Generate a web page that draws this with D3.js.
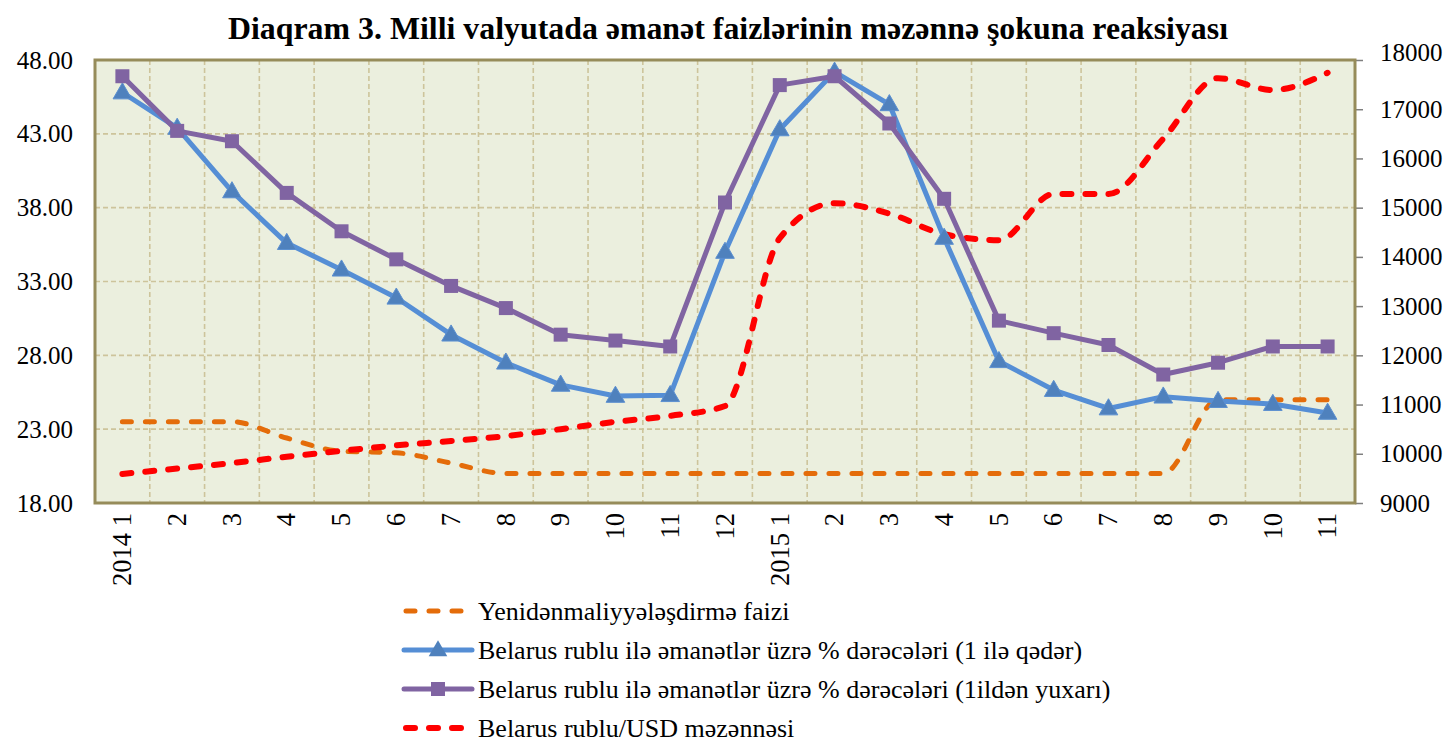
<!DOCTYPE html>
<html>
<head>
<meta charset="utf-8">
<script src="https://cdn.jsdelivr.net/npm/d3@7"></script>
<style>
    body { margin: 0; background: #ffffff; }
    text { font-family: "Liberation Serif", "Times New Roman", serif; }
</style>
</head>
<body>
<div class="chart"></div>
<script>
// Category labels (monthly, 2014 1 .. 2015 11)
var months = ["2014 1", "2", "3", "4", "5", "6", "7", "8", "9", "10", "11", "12",
              "2015 1", "2", "3", "4", "5", "6", "7", "8", "9", "10", "11"];

// Refinancing rate, % (left axis)
var refinRate = [23.5, 23.5, 23.5, 22.4, 21.5, 21.4, 20.7, 20, 20, 20, 20, 20,
                 20, 20, 20, 20, 20, 20, 20, 20, 25, 25, 25];

// Deposit rates in Belarusian rubles, up to 1 year (left axis)
var rateShort = [45.8, 43.4, 39.1, 35.6, 33.8, 31.9, 29.4, 27.5, 26.0, 25.25, 25.3, 35.0,
                 43.3, 47.2, 45.0, 35.95, 27.6, 25.65, 24.4, 25.2, 24.9, 24.7, 24.1];

// Deposit rates in Belarusian rubles, over 1 year (left axis)
var rateLong = [46.9, 43.2, 42.5, 39.0, 36.4, 34.5, 32.7, 31.2, 29.4, 29.0, 28.6, 38.35,
                46.3, 46.9, 43.7, 38.6, 30.35, 29.5, 28.7, 26.7, 27.5, 28.6, 28.6];

// BYR/USD exchange rate (right axis)
var usdRate = [9590, 9700, 9810, 9940, 10060, 10170, 10260, 10360, 10500, 10650, 10770, 10970,
               14380, 15090, 14880, 14460, 14340, 15280, 15280, 16400, 17630, 17390, 17740];

var leftTicks = [18, 23, 28, 33, 38, 43, 48];
var rightTicks = [9000, 10000, 11000, 12000, 13000, 14000, 15000, 16000, 17000, 18000];

var title = "Diaqram 3. Milli valyutada əmanət faizlərinin məzənnə şokuna reaksiyası";
var legendNames = [
    "Yenidənmaliyyələşdirmə faizi",
    "Belarus rublu ilə əmanətlər üzrə % dərəcələri (1 ilə qədər)",
    "Belarus rublu ilə əmanətlər üzrə % dərəcələri (1ildən yuxarı)",
    "Belarus rublu/USD məzənnəsi"
];

var serif = "Liberation Serif";
var svgWidth = 1450;
var svgHeight = 744;
var margin = { top: 60, right: 95, bottom: 241, left: 95 };
var width = svgWidth - margin.left - margin.right;
var height = svgHeight - margin.top - margin.bottom;

var svg = d3.select(".chart")
    .append("svg")
    .attr("width", svgWidth)
    .attr("height", svgHeight)
    .attr("font-family", serif);

// Title
svg.append("text")
    .attr("x", 728)
    .attr("y", 39)
    .attr("text-anchor", "middle")
    .attr("font-family", serif)
    .attr("font-size", 31)
    .attr("font-weight", "bold")
    .attr("textLength", 1000)
    .attr("lengthAdjust", "spacingAndGlyphs")
    .text(title);

var chartGroup = svg.append("g")
    .attr("transform", `translate(${margin.left}, ${margin.top})`);

// Scales
var xBand = d3.scaleBand()
    .domain(d3.range(months.length))
    .range([0, width])
    .padding(0);
var xMid = i => xBand(i) + xBand.bandwidth() / 2;

var yLeft = d3.scaleLinear().domain([18, 48]).range([height, 0]);
var yRight = d3.scaleLinear().domain([9000, 18000]).range([height, 0]);

// Plot background
chartGroup.append("rect")
    .attr("width", width)
    .attr("height", height)
    .attr("fill", "#ebefde");

// Gridlines
chartGroup.append("g")
    .selectAll("line")
    .data(leftTicks.slice(1, -1))
    .enter()
    .append("line")
    .attr("x1", 0)
    .attr("x2", width)
    .attr("y1", d => yLeft(d))
    .attr("y2", d => yLeft(d))
    .attr("stroke", "#cdc49b")
    .attr("stroke-width", 1.6)
    .attr("stroke-dasharray", "5,3");

chartGroup.append("g")
    .selectAll("line")
    .data(d3.range(1, months.length))
    .enter()
    .append("line")
    .attr("x1", d => xBand(d))
    .attr("x2", d => xBand(d))
    .attr("y1", 0)
    .attr("y2", height)
    .attr("stroke", "#cdc49b")
    .attr("stroke-width", 1.6)
    .attr("stroke-dasharray", "5,3");

// Axes
var leftAxis = d3.axisLeft(yLeft)
    .tickValues(leftTicks)
    .tickSize(0)
    .tickPadding(22)
    .tickFormat(d3.format(".2f"));

var rightAxis = d3.axisRight(yRight)
    .tickValues(rightTicks)
    .tickSize(8)
    .tickPadding(17)
    .tickFormat(d => d);

var bottomAxis = d3.axisBottom(xBand)
    .tickSize(0)
    .tickFormat(i => months[i]);

var gLeft = chartGroup.append("g").call(leftAxis);
var gRight = chartGroup.append("g")
    .attr("transform", `translate(${width}, 0)`)
    .call(rightAxis);
var gBottom = chartGroup.append("g")
    .attr("transform", `translate(0, ${height})`)
    .call(bottomAxis);

[gLeft, gRight, gBottom].forEach(function(g) {
    g.select(".domain").remove();
    g.attr("font-family", serif);
    g.selectAll("text")
        .attr("font-family", serif)
        .attr("font-size", 25)
        .attr("fill", "#000");
});
gRight.selectAll(".tick line")
    .attr("stroke", "#7f7f7f")
    .attr("stroke-width", 1.5);
// top label of the right axis sits a little higher, as in the original
gRight.selectAll(".tick text")
    .filter(d => d === 18000)
    .attr("dy", "0.0em");

gBottom.selectAll("text")
    .attr("font-size", 26.5)
    .attr("transform", "rotate(-90)")
    .attr("text-anchor", "end")
    .attr("x", -10)
    .attr("y", 0)
    .attr("dy", "0.33em");

// Series lines
var lineLeft = d3.line()
    .x((d, i) => xMid(i))
    .y(d => yLeft(d));
var smoothLeft = d3.line()
    .x((d, i) => xMid(i))
    .y(d => yLeft(d))
    .curve(d3.curveMonotoneX);
var smoothRight = d3.line()
    .x((d, i) => xMid(i))
    .y(d => yRight(d))
    .curve(d3.curveMonotoneX);

chartGroup.append("path")
    .datum(refinRate)
    .attr("d", smoothLeft)
    .attr("fill", "none")
    .attr("stroke", "#e46c0a")
    .attr("stroke-width", 5)
    .attr("stroke-linecap", "round")
    .attr("stroke-dasharray", "9,14");

chartGroup.append("path")
    .datum(usdRate)
    .attr("d", smoothRight)
    .attr("fill", "none")
    .attr("stroke", "#ff0000")
    .attr("stroke-width", 6)
    .attr("stroke-linecap", "round")
    .attr("stroke-dasharray", "9,14");

chartGroup.append("path")
    .datum(rateShort)
    .attr("d", lineLeft)
    .attr("fill", "none")
    .attr("stroke", "#558ed5")
    .attr("stroke-width", 5)
    .attr("stroke-linejoin", "round");

var triangle = d3.symbol().type(d3.symbolTriangle).size(150);
chartGroup.append("g")
    .selectAll("path")
    .data(rateShort)
    .enter()
    .append("path")
    .attr("d", triangle)
    .attr("transform", (d, i) => `translate(${xMid(i)}, ${yLeft(d) + 1})`)
    .attr("fill", "#4f81bd")
    .attr("stroke", "#5b8fd0")
    .attr("stroke-width", 1);

chartGroup.append("path")
    .datum(rateLong)
    .attr("d", lineLeft)
    .attr("fill", "none")
    .attr("stroke", "#8064a2")
    .attr("stroke-width", 5)
    .attr("stroke-linejoin", "round");

chartGroup.append("g")
    .selectAll("rect")
    .data(rateLong)
    .enter()
    .append("rect")
    .attr("x", (d, i) => xMid(i) - 7)
    .attr("y", d => yLeft(d) - 7)
    .attr("width", 14)
    .attr("height", 14)
    .attr("fill", "#8064a2");

// Plot border
chartGroup.append("rect")
    .attr("width", width)
    .attr("height", height)
    .attr("fill", "none")
    .attr("stroke", "#968c5a")
    .attr("stroke-width", 3);

// Legend
var legend = svg.append("g").attr("transform", "translate(402, 611)");
var rowGap = 39;

var legendRows = legend.selectAll("g")
    .data(legendNames)
    .enter()
    .append("g")
    .attr("transform", (d, i) => `translate(0, ${i * rowGap})`);

legendRows.append("text")
    .attr("x", 76)
    .attr("dy", "0.33em")
    .attr("font-family", serif)
    .attr("font-size", 26)
    .text(d => d);

legend.append("line")
    .attr("x1", 4).attr("x2", 60)
    .attr("stroke", "#e46c0a").attr("stroke-width", 5)
    .attr("stroke-linecap", "round").attr("stroke-dasharray", "9,14");
legend.append("line")
    .attr("x1", 2).attr("x2", 70)
    .attr("y1", rowGap).attr("y2", rowGap)
    .attr("stroke", "#558ed5").attr("stroke-width", 5)
    .attr("stroke-linecap", "round");
legend.append("path")
    .attr("d", triangle)
    .attr("transform", `translate(36, ${rowGap + 1})`)
    .attr("fill", "#4f81bd");
legend.append("line")
    .attr("x1", 2).attr("x2", 70)
    .attr("y1", rowGap * 2).attr("y2", rowGap * 2)
    .attr("stroke", "#8064a2").attr("stroke-width", 5)
    .attr("stroke-linecap", "round");
legend.append("rect")
    .attr("x", 29).attr("y", rowGap * 2 - 7)
    .attr("width", 14).attr("height", 14)
    .attr("fill", "#8064a2");
legend.append("line")
    .attr("x1", 4).attr("x2", 60)
    .attr("y1", rowGap * 3).attr("y2", rowGap * 3)
    .attr("stroke", "#ff0000").attr("stroke-width", 6)
    .attr("stroke-linecap", "round").attr("stroke-dasharray", "9,14");
</script>
</body>
</html>
